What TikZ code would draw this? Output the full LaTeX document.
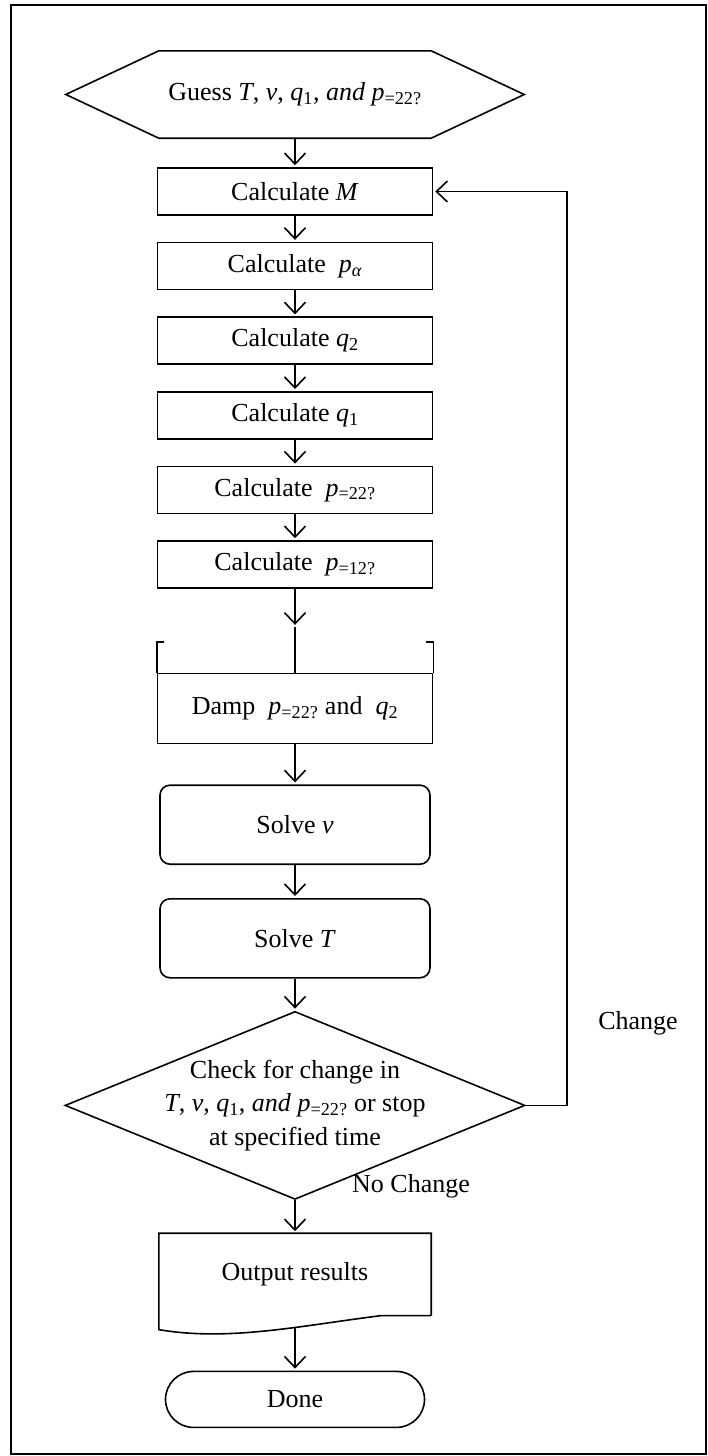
\documentclass[tikz,border=0pt]{standalone}
\usepackage{fontspec}
\setmainfont{Liberation Serif}
\usetikzlibrary{shapes.geometric,positioning,arrows.meta}
\tikzset{every node/.style={font=\fontsize{26}{33.5}\selectfont},inner sep=0pt}
\tikzset{process/.style={draw, line width=1.6pt, minimum width=275pt, minimum height=47pt}}
\tikzset{solver/.style={process, rounded corners=10pt, minimum width=270pt, minimum height=79pt}}
\tikzset{decision/.style={diamond, draw, line width=1.6pt, align=center, shape aspect=2.447, inner sep=-8pt}}
\tikzset{flow/.style={line width=1.6pt, -{Straight Barb[length=11pt,width=21pt,line width=1.6pt]}, shorten >=2pt}}
\tikzset{outline/.style={line width=1.6pt}}
\newcommand{\subvar}[2]{\textit{#1}\textsubscript{#2}}

\begin{document}
\begin{tikzpicture}[x=1pt,y=-1pt,node distance=26pt]
\useasboundingbox (0,0) rectangle (708,1456);
\draw[line width=1.2pt] (11,5) rectangle (706,1454);
% start
\node[minimum width=272pt, minimum height=87pt](guess) at (295,94.5){Guess \textit{T}, \textit{v}, \subvar{q}{1}, \textit{and} \subvar{p}{=22?}};
\draw[outline] (guess.north west) -- (guess.north east) -- ([xshift=93pt]guess.east) -- (guess.south east) -- (guess.south west) -- ([xshift=-93pt]guess.west) -- cycle;
% calculations
\node[process](calcm)[below=29pt of guess]{Calculate \textit{M}};
\node[process](calcpa)[below=of calcm]{Calculate \ \subvar{p}{\textit{α}}};
\node[process](calcqb)[below=of calcpa]{Calculate \subvar{q}{2}};
\node[process](calcqa)[below=of calcqb]{Calculate \subvar{q}{1}};
\node[process](calcpb)[below=of calcqa]{Calculate \ \subvar{p}{=22?}};
\node[process](calcpc)[below=of calcpb]{Calculate \ \subvar{p}{=12?}};
% damping
\node[process, minimum height=70pt](damp)[below=84pt of calcpc]{Damp \ \subvar{p}{=22?} and \ \subvar{q}{2}};
\draw[outline] (damp.north west) -- ++(0,-31) -- ++(7,0);
\draw[outline] (damp.north east) -- ++(0,-31) -- ++(-7,0);
\coordinate[below=38pt of calcpc](dampin);
% solvers
\node[solver](solvev)[below=40pt of damp]{Solve \textit{v}};
\node[solver](solvet)[below=33pt of solvev]{Solve \textit{T}};
\node[decision, minimum width=460pt, minimum height=188pt](check)[below=32pt of solvet]{Check for change in\\\textit{T}, \textit{v}, \subvar{q}{1}, \textit{and} \subvar{p}{=22?} or stop\\at specified time};
% output
\node[minimum width=272pt, minimum height=82pt](output)[below=33pt of check]{Output results};
\draw[outline] (output.south east) -- (output.north east) -- (output.north west) -- ([yshift=-14pt]output.south west) .. controls +(70,12) and +(-80,10) .. ([xshift=-50pt]output.south east) -- (output.south east);
\coordinate (outwave) at ([yshift=-12pt]output.south);
\node[draw, line width=1.6pt, rounded corners=28pt, minimum width=259pt, minimum height=56pt](done)[below=55pt of output]{Done};
\node(change) at (638,1023){Change};
\node(nochange) at (411,1186){No Change};
% connectors
\draw[flow] (guess) -- (calcm);
\draw[flow] (calcm) -- (calcpa);
\draw[flow] (calcpa) -- (calcqb);
\draw[flow] (calcqb) -- (calcqa);
\draw[flow] (calcqa) -- (calcpb);
\draw[flow] (calcpb) -- (calcpc);
\draw[flow] (calcpc) -- (dampin);
\draw[outline] (dampin) -- (damp);
\draw[flow] (damp) -- (solvev);
\draw[flow] (solvev) -- (solvet);
\draw[flow] (solvet) -- (check);
\draw[flow] (check) -- (output);
\draw[flow] (outwave) -- (done);
\draw[flow] (check.east) -- ++(41,0) |- (calcm.east);
\end{tikzpicture}
\end{document}
